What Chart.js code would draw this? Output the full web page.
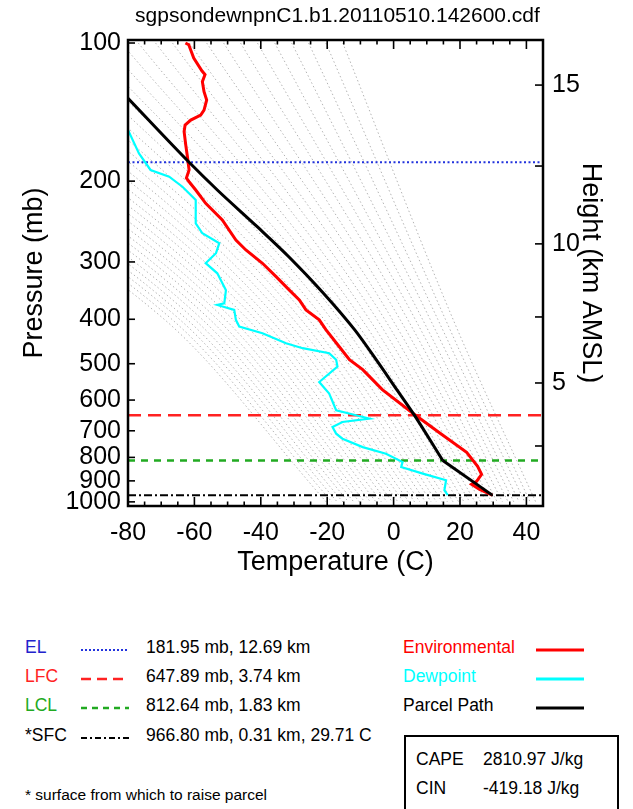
<!DOCTYPE html>
<html>
<head>
<meta charset="utf-8">
<script src="https://cdn.jsdelivr.net/npm/chart.js@4.4.1/dist/chart.umd.min.js"></script>
<style>
  body { margin: 0; background: #fff; font-family: "Liberation Sans", Arial, sans-serif; }
  #wrap { position: relative; width: 633px; height: 809px; overflow: hidden; }
  #chart { position: absolute; left: 0; top: 0; }
  .t { position: absolute; white-space: nowrap; transform: translateY(-50%); line-height: 1; }
  #title { left: 0; width: 675px; text-align: center; top: 14px; font-size: 21px; }
  .leg { font-size: 17.5px; }
  .sample { position: absolute; transform: translateY(-50%); }
  #box { position: absolute; left: 404px; top: 735px; width: 215px; height: 90px; border: 2px solid #000; box-sizing: border-box; }
</style>
</head>
<body>
<div id="wrap">
  <canvas id="chart" width="633" height="600"></canvas>
  <div class="t" id="title">sgpsondewnpnC1.b1.20110510.142600.cdf</div>
  <div id="legend"></div>
  <div id="box"></div>
</div>
<script>
// sounding data: temperature in C, pressure in mb
const envT = [-62.7, -61.7, -60.2, -57.7, -56.8, -57.6, -57.1, -56.3, -57.1, -58.1, -61.1, -62.8, -63.1, -62.6, -62.1, -61.6, -62.4, -61.6, -59.6, -56.6, -51.6, -47.5, -44.5, -39.5, -35.4, -31.4, -28.4, -26.4, -22.4, -20.4, -17.3, -13.3, -9.3, -3.4, 5.7, 13.8, 22.0, 25.3, 26.5, 25.0, 23.5, 25.9, 29.71];
const envP = [100, 100.9, 107.8, 115.1, 117.2, 121.4, 127.7, 133.1, 140, 143.5, 147.2, 150.9, 156, 166.9, 176.9, 189.1, 196.9, 200.6, 209.1, 223.6, 243.1, 268.9, 282.5, 302, 323, 345.6, 363.2, 381.7, 401.1, 421.5, 450, 490.1, 515.1, 569.5, 640.4, 706.7, 780, 836.3, 871, 902.2, 915.9, 939.2, 966.8];

const dewT = [-80, -76.7, -73.2, -67.6, -63.6, -59.6, -59.6, -57.6, -52.5, -53.5, -56.6, -53.1, -50.5, -51.0, -53.1, -48.0, -47.5, -46.5, -39.5, -32.4, -27.4, -19.4, -17.3, -16.9, -22.4, -19.4, -17.3, -11.3, -7.3, -15.4, -18.4, -17.3, -15.4, -9.3, -2.3, 2.7, 2.3, 8.8, 15.8, 15.3, 16.3];
const dewP = [154.7, 174, 189.1, 195.6, 205.7, 219.8, 247.2, 259.8, 273.1, 287.1, 301.8, 317.6, 345.6, 369.2, 372.3, 381.7, 401.1, 414.8, 429, 451.1, 462.5, 474.3, 490.1, 507, 548.1, 580.7, 631.4, 647.5, 658.4, 669.7, 686.8, 710.4, 728.5, 759.8, 785.5, 819.1, 839.8, 868, 897.4, 943.3, 966.8];

// parcel path: moist part (top .. LCL) then dry part (LCL .. surface)
const parcelT = [-80, -61.6, -53.1, -41.0, -31.5, -21.2, -11.7, -5.2, 1.0, 6.3, 14.8];
const parcelP = [132, 181.95, 209.1, 251.7, 292.6, 350.5, 422, 490.6, 570, 647.89, 812.64];
const parcelDryT = [14.8, 29.71];
const parcelDryP = [812.64, 966.8];

// levels: EL, LFC, LCL, SFC (mb)
const levelNames = ['EL', 'LFC', 'LCL', '*SFC'];
const levelP = [181.95, 647.89, 812.64, 966.8];
const levelText = ['181.95 mb, 12.69 km', '647.89 mb, 3.74 km', '812.64 mb, 1.83 km', '966.80 mb, 0.31 km, 29.71 C'];

// grey guide curves: temperature where each crosses 100, 400 and 1000 mb
const guideTop = [-15.3, -20.4, -25.6, -30.7, -35.8, -41.0, -46.1, -51.2, -56.3, -61.5, -66.6, -71.7, -76.9, -82.0, -87.1, -92.3, -97.4, -102.5, -107.6, -112.8,
                  -117.9, -123.0, -128.2, -133.3, -138.4, -143.6, -148.7, -153.8, -158.9, -164.1, -169.2, -174.3, -179.5, -184.6, -189.7, -194.9, -200.0, -205.1, -210.2];
const guideMid = [17.9, 15.6, 13.3, 11.0, 8.7, 6.5, 4.2, 1.9, -0.4, -2.7, -5.0, -7.3, -9.6, -11.9, -14.2, -16.4, -18.7, -21.0, -23.3, -25.6,
                  -27.9, -30.2, -32.5, -34.8, -37.1, -39.4, -41.6, -43.9, -46.2, -48.5, -50.8, -53.1, -55.4, -57.7, -60.0, -62.3, -64.5, -66.8, -69.1];
const guideBottom = [42.8, 41.1, 39.5, 37.8, 36.2, 34.5, 32.8, 31.2, 29.5, 27.9, 26.2, 24.5, 22.9, 21.2, 19.6, 17.9, 16.2, 14.6, 12.9, 11.3,
                     9.6, 7.9, 6.3, 4.6, 3.0, 1.3, -0.4, -2.0, -3.7, -5.3, -7.0, -8.7, -10.3, -12.0, -13.6, -15.3, -17.0, -18.6, -20.3];
const guideP = [100, 400, 1000];

// axes
const tempTicks = [-80, -60, -40, -20, 0, 20, 40];
const pressureTicks = [100, 200, 300, 400, 500, 600, 700, 800, 900, 1000];
const heightTicks = ['', '5', '', '10', '', '15'];          // 2.5 .. 15 km
const heightTickP = [755.5, 550.7, 395.4, 274, 185.4, 123.5]; // pressure at those heights

const F = '"Liberation Sans", Arial, sans-serif';
const pts = (xs, ys) => xs.map((x, i) => ({ x: x, y: ys[i] }));

const datasets = [
  { data: pts(parcelT, parcelP), borderColor: '#000', borderWidth: 3, cubicInterpolationMode: 'monotone' },
  { data: pts(parcelDryT, parcelDryP), borderColor: '#000', borderWidth: 3 },
  { data: pts(envT, envP), borderColor: '#ff0000', borderWidth: 3 },
  { data: pts(dewT, dewP), borderColor: '#00ffff', borderWidth: 2.2 },
  { data: [{ x: -80, y: levelP[3] }, { x: 45, y: levelP[3] }], borderColor: '#000', borderWidth: 2, borderDash: [8, 3, 2, 3] },
  { data: [{ x: -80, y: levelP[2] }, { x: 45, y: levelP[2] }], borderColor: '#22aa22', borderWidth: 2.5, borderDash: [7, 6] },
  { data: [{ x: -80, y: levelP[1] }, { x: 45, y: levelP[1] }], borderColor: '#ff2222', borderWidth: 2.5, borderDash: [13, 7] },
  { data: [{ x: -80, y: levelP[0] }, { x: 45, y: levelP[0] }], borderColor: '#2233dd', borderWidth: 2, borderDash: [2, 2.5] }
];
guideTop.forEach((t, i) => {
  datasets.push({
    data: pts([t, guideMid[i], guideBottom[i]], guideP),
    borderColor: '#b4b4b4', borderWidth: 1, borderDash: [1.5, 2.5], cubicInterpolationMode: 'monotone'
  });
});
datasets.forEach(d => { d.pointRadius = 0; d.fill = false; d.yAxisID = 'y'; });

// frame and inward tick marks
const framePlugin = {
  id: 'frame',
  afterDatasetsDraw(chart) {
    const { ctx, chartArea: a, scales } = chart;
    const seg = (x1, y1, x2, y2) => { ctx.beginPath(); ctx.moveTo(x1, y1); ctx.lineTo(x2, y2); ctx.stroke(); };
    ctx.save();
    ctx.strokeStyle = '#000';
    ctx.lineWidth = 1.6;
    for (let t = -80; t <= 45; t += 5) {
      const x = scales.x.getPixelForValue(t);
      const len = t % 20 === 0 ? 9 : 4.5;
      seg(x, a.bottom, x, a.bottom - len);
      seg(x, a.top, x, a.top + len);
    }
    pressureTicks.forEach(p => {
      const y = scales.y.getPixelForValue(p);
      seg(a.left, y, a.left + 7, y);
    });
    heightTickP.forEach(p => {
      const y = scales.y2.getPixelForValue(p);
      seg(a.right, y, a.right - 8, y);
    });
    ctx.lineWidth = 2.5;
    ctx.strokeRect(a.left, a.top, a.right - a.left, a.bottom - a.top);
    ctx.restore();
  }
};

new Chart(document.getElementById('chart'), {
  type: 'line',
  data: { datasets: datasets },
  options: {
    responsive: false,
    animation: false,
    layout: { padding: { top: 40 } },
    plugins: { legend: { display: false }, tooltip: { enabled: false } },
    scales: {
      x: {
        type: 'linear', position: 'bottom', min: -80, max: 45,
        afterFit: s => { s.height = 94; },
        afterBuildTicks: s => { s.ticks = tempTicks.map(v => ({ value: v })); },
        grid: { display: false, drawTicks: false },
        border: { display: false },
        ticks: { color: '#000', font: { family: F, size: 25 }, padding: 12, autoSkip: false, maxRotation: 0 },
        title: { display: true, text: 'Temperature (C)', color: '#000', font: { family: F, size: 27 }, padding: { bottom: 21 } }
      },
      y: {
        type: 'logarithmic', position: 'left', reverse: true, min: 98.5, max: 1021,
        afterFit: s => { s.width = 128; },
        afterBuildTicks: s => { s.ticks = pressureTicks.map(v => ({ value: v })); },
        grid: { display: false, drawTicks: false },
        border: { display: false },
        ticks: { color: '#000', font: { family: F, size: 25 }, padding: 7, autoSkip: false, callback: v => String(v) },
        title: { display: true, text: 'Pressure (mb)', color: '#000', font: { family: F, size: 27 }, padding: { top: 18 } }
      },
      y2: {
        type: 'logarithmic', position: 'right', reverse: true, min: 98.5, max: 1021,
        afterFit: s => { s.width = 90; },
        afterBuildTicks: s => { s.ticks = heightTickP.map(v => ({ value: v })); },
        grid: { display: false, drawTicks: false },
        border: { display: false },
        ticks: { color: '#000', font: { family: F, size: 25 }, padding: 9, autoSkip: false,
                 callback: v => heightTicks[heightTickP.indexOf(v)] },
        title: { display: true, text: 'Height (km AMSL)', color: '#000', font: { family: F, size: 27 }, padding: { top: 26 } }
      }
    }
  },
  plugins: [framePlugin]
});

// legend below the chart
const legend = document.getElementById('legend');
const svgLine = (color, dash, w) =>
  `<svg width="48" height="6"><line x1="0" y1="3" x2="48" y2="3" stroke="${color}" stroke-width="${w}" ${dash ? `stroke-dasharray="${dash}"` : ''}/></svg>`;
const addText = (x, y, txt, color, cls) => {
  const d = document.createElement('div');
  d.className = 't ' + (cls || 'leg');
  d.style.left = x + 'px'; d.style.top = y + 'px'; d.style.color = color || '#000';
  d.textContent = txt;
  legend.appendChild(d);
};
const addSample = (x, y, html) => {
  const d = document.createElement('div');
  d.className = 'sample';
  d.style.left = x + 'px'; d.style.top = y + 'px';
  d.innerHTML = html;
  legend.appendChild(d);
};
const rowY = [648, 677, 706, 736];
const levelColors = ['#2222cc', '#ff2222', '#22aa22', '#000'];
const levelSamples = [svgLine('#2233dd', '2 2', 2), svgLine('#ff2222', '10 6', 2.5), svgLine('#22aa22', '6 5', 2.5), svgLine('#000', '6 3 2 3', 2)];
levelNames.forEach((n, i) => {
  addText(25, rowY[i], n, levelColors[i]);
  addSample(81, rowY[i], levelSamples[i]);
  addText(146, rowY[i], levelText[i], '#000');
});
const seriesNames = ['Environmental', 'Dewpoint', 'Parcel Path'];
const seriesColors = ['#ff0000', '#00ffff', '#000'];
seriesNames.forEach((n, i) => {
  addText(403, rowY[i], n, seriesColors[i]);
  addSample(536, rowY[i], svgLine(seriesColors[i], '', 3));
});
addText(25, 795, '* surface from which to raise parcel', '#000', 'leg');
legend.lastChild.style.fontSize = '15.5px';
addText(416, 760, 'CAPE', '#000');
addText(483, 760, '2810.97 J/kg', '#000');
addText(416, 789, 'CIN', '#000');
addText(483, 789, '-419.18 J/kg', '#000');
</script>
</body>
</html>
